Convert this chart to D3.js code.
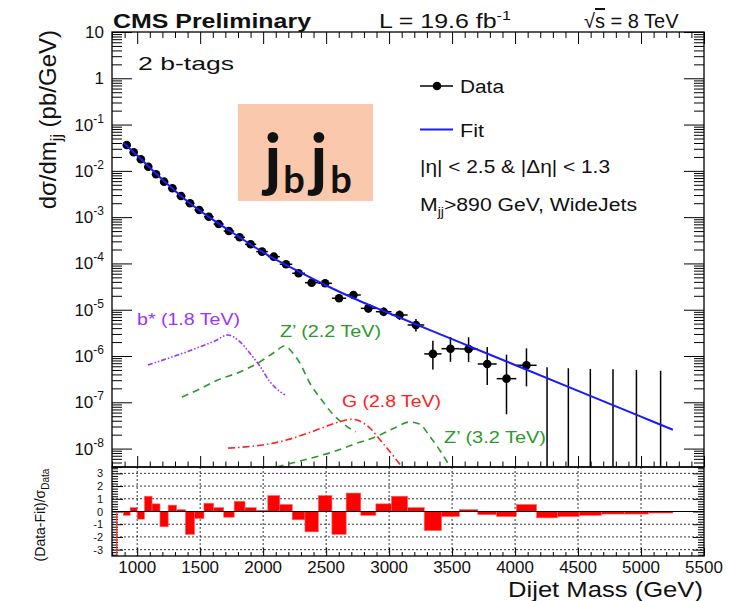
<!DOCTYPE html>
<html>
<head>
<meta charset="utf-8">
<script src="https://cdn.jsdelivr.net/npm/d3@7"></script>
<style>
  body { margin: 0; background: #fff; }
  svg { display: block; font-family: 'Liberation Sans', Arial, sans-serif; }
</style>
</head>
<body>
<div id="chart"></div>
<script>
// dijet mass bins (GeV)
const binEdges = [890, 944, 1000, 1058, 1118, 1181, 1246, 1313, 1383, 1455, 1530, 1607, 1687, 1770,
  1856, 1945, 2037, 2132, 2231, 2332, 2438, 2546, 2659, 2775, 2895, 3019, 3147, 3279, 3416, 3558,
  3704, 3854, 4010, 4171, 4337, 4509, 4686, 4869, 5058, 5253]

// data, pb/GeV (first 33 bins)
const dataVal = [3.62e-2, 2.52e-2, 1.78e-2, 1.23e-2, 8.43e-3, 5.84e-3, 4.20e-3, 2.86e-3, 1.99e-3,
  1.43e-3, 1.02e-3, 7.11e-4, 5.01e-4, 3.67e-4, 2.59e-4, 1.80e-4, 1.40e-4, 9.59e-5, 6.13e-5, 3.84e-5,
  3.72e-5, 1.77e-5, 2.08e-5, 1.07e-5, 9.07e-6, 7.69e-6, 4.68e-6, 1.11e-6, 1.44e-6, 1.42e-6, 6.73e-7,
  3.24e-7, 6.3e-7]
// relative error bars
const errUp = [0.005, 0.006, 0.007, 0.008, 0.010, 0.012, 0.013, 0.016, 0.019, 0.022, 0.025, 0.030,
  0.035, 0.040, 0.047, 0.055, 0.062, 0.073, 0.091, 0.11, 0.11, 0.16, 0.15, 0.22, 0.23, 0.25, 0.34,
  0.93, 0.79, 0.79, 1.32, 2.30, 1.32]
const errDn = [0.005, 0.006, 0.007, 0.008, 0.010, 0.012, 0.013, 0.016, 0.019, 0.022, 0.025, 0.030,
  0.035, 0.040, 0.047, 0.055, 0.062, 0.073, 0.091, 0.11, 0.11, 0.16, 0.15, 0.19, 0.20, 0.22, 0.28,
  0.54, 0.48, 0.48, 0.65, 0.83, 0.65]
// empty bins: upper limit only
const emptyUp = [5.7e-7, 5.45e-7, 5.25e-7, 5.15e-7, 5.0e-7, 4.8e-7]

// fit
const fitMass = [890, 1000, 1200, 1400, 1600, 1800, 2000, 2250, 2500, 2750, 3000, 3500, 4000, 4500, 5000, 5253]
const fitVal = [4.06e-2, 2.15e-2, 6.51e-3, 2.18e-3, 8.85e-4, 3.88e-4, 1.73e-4, 7.40e-5, 3.34e-5,
  1.62e-5, 8.37e-6, 2.31e-6, 6.40e-7, 1.77e-7, 4.89e-8, 2.55e-8]

// (data-fit)/sigma per bin
const pulls = [-0.3, 0.3, -0.6, 1.2, 0.6, -1.2, 0.5, 0.15, -1.8, -0.55, 0.65, 0.3, -0.45, 0.8, 0.3,
  0.1, 1.25, 0.55, -0.65, -1.6, 1.25, -1.8, 1.45, -0.3, 0.6, 1.2, 0.3, -1.5, -0.4, 0.15, -0.25, -0.4,
  0.55, -0.5, -0.4, -0.3, -0.2, -0.2, -0.12]
const pullEdgeLine = 838

// signal shapes
const bstarMass = [1085, 1299, 1498, 1617, 1720, 1799, 1894, 1973, 2053, 2172]
const bstarVal = [6.4e-7, 1.0e-6, 1.57e-6, 2.11e-6, 2.85e-6, 2.22e-6, 1.16e-6, 6.1e-7, 2.8e-7, 1.44e-7]
const zp22Mass = [1355, 1498, 1640, 1815, 1973, 2092, 2172, 2235, 2291, 2370, 2465, 2545, 2640, 2735]
const zp22Val = [1.30e-7, 1.94e-7, 3.03e-7, 4.52e-7, 7.43e-7, 1.22e-6, 1.65e-6, 1.16e-6, 7.07e-7,
  2.61e-7, 1.12e-7, 5.87e-8, 3.40e-8, 2.29e-8]
const g28Mass = [1722, 2158, 2423, 2608, 2700, 2819, 2951, 3097]
const g28Val = [1.02e-8, 1.46e-8, 2.52e-8, 3.81e-8, 4.29e-8, 3.24e-8, 1.30e-8, 4.2e-9]
const zp32Mass = [2108, 2291, 2552, 2727, 2901, 3044, 3163, 3242, 3321, 3401, 3480]
const zp32Val = [4.0e-9, 5.4e-9, 8.45e-9, 1.26e-8, 1.83e-8, 2.79e-8, 3.76e-8, 3.40e-8, 1.87e-8, 9.33e-9, 4.2e-9]

const yTickExp = [1, 0, -1, -2, -3, -4, -5, -6, -7, -8]
const pullTicks = [3, 2, 1, 0, -1, -2, -3]
const xTickLabels = [1000, 1500, 2000, 2500, 3000, 3500, 4000, 4500, 5000, 5500]

const width = 731
const height = 601
const L = 112, R = 704, T = 32, MID = 467, B = 556

const svg = d3.select('#chart').append('svg')
  .attr('width', width).attr('height', height)

svg.append('rect').attr('width', width).attr('height', height).attr('fill', '#fff')

const x = d3.scaleLinear().domain([800, 5500]).range([L, R])
const y = d3.scaleLog().domain([4e-9, 10]).range([MID, T])
const yr = d3.scaleLinear().domain([-3.5, 3.5]).range([B, MID])

svg.append('defs').append('clipPath').attr('id', 'upper')
  .append('rect').attr('x', L).attr('y', T).attr('width', R - L).attr('height', MID - T)

// tick marks via d3 axes (no labels)
const tickAxis = (axis, values, size, tr) => {
  const g = svg.append('g').attr('transform', tr)
    .call(axis.tickValues(values).tickSize(-size).tickFormat(''))
  g.select('.domain').remove()
  g.selectAll('line').attr('stroke', '#000').attr('stroke-width', 1)
}

const xMajor = x.ticks(10)
const xMinor = x.ticks(47).filter(v => v % 500 !== 0)
const yAll = y.ticks(10)
const yMajor = yAll.filter(v => Math.abs(Math.log10(v) - Math.round(Math.log10(v))) < 1e-6)
const yMinor = yAll.filter(v => !yMajor.includes(v))

tickAxis(d3.axisTop(x), xMajor, 12, `translate(0,${T})`)
tickAxis(d3.axisTop(x), xMinor, 6, `translate(0,${T})`)
tickAxis(d3.axisBottom(x), xMajor, 11, `translate(0,${MID})`)
tickAxis(d3.axisBottom(x), xMinor, 5.5, `translate(0,${MID})`)
tickAxis(d3.axisLeft(y), yMajor, 20, `translate(${L},0)`)
tickAxis(d3.axisLeft(y), yMinor, 10, `translate(${L},0)`)
tickAxis(d3.axisRight(y), yMajor, 20, `translate(${R},0)`)
tickAxis(d3.axisRight(y), yMinor, 10, `translate(${R},0)`)

// lower panel grid
const grid = svg.append('g').attr('stroke', '#000').attr('stroke-width', 0.8).attr('stroke-dasharray', '2,2')
grid.selectAll('.gh').data(pullTicks.filter(v => v !== 0)).enter().append('line')
  .attr('x1', L).attr('x2', R).attr('y1', d => yr(d)).attr('y2', d => yr(d))
grid.selectAll('.gv').data(xMajor.filter(v => v < 5500)).enter().append('line')
  .attr('y1', MID).attr('y2', B).attr('x1', d => x(d)).attr('x2', d => x(d))

const pMajor = yr.ticks(7).filter(v => Number.isInteger(v))
const pMinor = yr.ticks(35).filter(v => !Number.isInteger(v))
tickAxis(d3.axisBottom(x), xMajor, 8, `translate(0,${B})`)
tickAxis(d3.axisBottom(x), xMinor, 4, `translate(0,${B})`)
tickAxis(d3.axisLeft(yr), pMajor, 11, `translate(${L},0)`)
tickAxis(d3.axisLeft(yr), pMinor, 6, `translate(${L},0)`)
tickAxis(d3.axisRight(yr), pMajor, 11, `translate(${R},0)`)
tickAxis(d3.axisRight(yr), pMinor, 6, `translate(${R},0)`)

// pull histogram
const bins = pulls.map((p, i) => ({ lo: binEdges[i], hi: binEdges[i + 1], p }))
svg.append('g').selectAll('rect').data(bins).enter().append('rect')
  .attr('x', d => x(d.lo))
  .attr('width', d => x(d.hi) - x(d.lo))
  .attr('y', d => yr(Math.max(0, d.p)))
  .attr('height', d => Math.abs(yr(d.p) - yr(0)))
  .attr('fill', '#ff0000')
  .attr('stroke', '#ff6060')
  .attr('stroke-width', 0.6)
svg.append('line')
  .attr('x1', x(pullEdgeLine)).attr('x2', x(pullEdgeLine))
  .attr('y1', yr(0)).attr('y2', B)
  .attr('stroke', '#ff3030').attr('stroke-width', 1.2)
svg.append('line').attr('x1', L).attr('x2', R).attr('y1', yr(0)).attr('y2', yr(0))
  .attr('stroke', '#000').attr('stroke-width', 1.2)

// signals
const sigLine = d3.line().x(d => x(d[0])).y(d => y(d[1])).curve(d3.curveMonotoneX)
const signals = [
  { m: bstarMass, v: bstarVal, color: '#9933ff', dash: '5,2,1.5,2,1.5,2' },
  { m: zp22Mass, v: zp22Val, color: '#2b9a2b', dash: '7,5' },
  { m: g28Mass, v: g28Val, color: '#ff2020', dash: '7,3,1.5,3' },
  { m: zp32Mass, v: zp32Val, color: '#2b9a2b', dash: '7,5' },
]
const sigG = svg.append('g').attr('clip-path', 'url(#upper)')
signals.forEach(s => {
  sigG.append('path')
    .attr('d', sigLine(s.m.map((m, i) => [m, s.v[i]])))
    .attr('fill', 'none')
    .attr('stroke', s.color)
    .attr('stroke-width', 1.6)
    .attr('stroke-dasharray', s.dash)
})

// data points
const pts = dataVal.map((v, i) => ({
  lo: binEdges[i], hi: binEdges[i + 1], m: (binEdges[i] + binEdges[i + 1]) / 2,
  v, up: v * (1 + errUp[i]), dn: v * (1 - errDn[i])
}))
const dataG = svg.append('g').attr('stroke', '#000').attr('stroke-width', 1.5)
dataG.selectAll('.eh').data(pts).enter().append('line')
  .attr('x1', d => x(d.lo)).attr('x2', d => x(d.hi))
  .attr('y1', d => y(d.v)).attr('y2', d => y(d.v))
dataG.selectAll('.ev').data(pts).enter().append('line')
  .attr('x1', d => x(d.m)).attr('x2', d => x(d.m))
  .attr('y1', d => y(d.dn)).attr('y2', d => y(d.up))
const empty = emptyUp.map((u, i) => {
  const k = dataVal.length + i
  return { m: (binEdges[k] + binEdges[k + 1]) / 2, u }
})
dataG.selectAll('.em').data(empty).enter().append('line')
  .attr('x1', d => x(d.m)).attr('x2', d => x(d.m))
  .attr('y1', d => y(d.u)).attr('y2', MID)
svg.append('g').selectAll('circle').data(pts).enter().append('circle')
  .attr('cx', d => x(d.m)).attr('cy', d => y(d.v)).attr('r', 4.3).attr('fill', '#000')

// fit
svg.append('path')
  .attr('d', d3.line().x(d => x(d[0])).y(d => y(d[1])).curve(d3.curveMonotoneX)(fitMass.map((m, i) => [m, fitVal[i]])))
  .attr('fill', 'none').attr('stroke', '#1a1aff').attr('stroke-width', 2)

// frames
svg.append('rect').attr('x', L).attr('y', T).attr('width', R - L).attr('height', MID - T)
  .attr('fill', 'none').attr('stroke', '#000').attr('stroke-width', 1.3)
svg.append('rect').attr('x', L).attr('y', MID).attr('width', R - L).attr('height', B - MID)
  .attr('fill', 'none').attr('stroke', '#000').attr('stroke-width', 1.3)

// text helpers
const stretch = (t, w) => t.attr('textLength', w).attr('lengthAdjust', 'spacingAndGlyphs')

// y tick labels
yTickExp.forEach(e => {
  const t = svg.append('text').attr('x', 104).attr('y', y(Math.pow(10, e)) + 6)
    .attr('text-anchor', 'end').attr('font-size', 17).attr('fill', '#111')
  if (e === 1) t.text('10')
  else if (e === 0) t.text('1')
  else {
    t.append('tspan').text('10')
    t.append('tspan').attr('dy', -8).attr('font-size', 12).text(String(e))
  }
})
pullTicks.forEach(v => {
  svg.append('text').attr('x', 103).attr('y', yr(v) + 4).attr('text-anchor', 'end')
    .attr('font-size', 11).attr('fill', '#111').text(String(v))
})
xTickLabels.forEach(v => {
  svg.append('text').attr('x', x(v)).attr('y', 573).attr('text-anchor', 'middle')
    .attr('font-size', 17).attr('fill', '#111').text(String(v))
})

// axis titles
stretch(svg.append('text').attr('x', 703).attr('y', 597).attr('text-anchor', 'end')
  .attr('font-size', 22).attr('fill', '#111').text('Dijet Mass (GeV)'), 195)

const yt = svg.append('text').attr('transform', 'translate(56,30) rotate(-90)')
  .attr('text-anchor', 'end').attr('font-size', 24).attr('fill', '#111')
yt.append('tspan').text('dσ/dm')
yt.append('tspan').attr('dy', 6).attr('font-size', 16).text('jj')
yt.append('tspan').attr('dy', -6).text(' (pb/GeV)')

const pt = svg.append('text').attr('transform', 'translate(45,515) rotate(-90)')
  .attr('text-anchor', 'middle').attr('font-size', 14).attr('fill', '#111')
pt.append('tspan').text('(Data-Fit)/σ')
pt.append('tspan').attr('dy', 4).attr('font-size', 10).text('Data')

// header
stretch(svg.append('text').attr('x', 113).attr('y', 28).attr('font-size', 21).attr('font-weight', 'bold')
  .attr('fill', '#111').text('CMS Preliminary'), 198)
const lumi = svg.append('text').attr('x', 379).attr('y', 28).attr('font-size', 20).attr('fill', '#111')
lumi.append('tspan').text('L = 19.6 fb')
lumi.append('tspan').attr('dy', -8).attr('font-size', 13).text('-1')
stretch(lumi, 132)
const rs = svg.append('text').attr('x', 584).attr('y', 28).attr('font-size', 20).attr('fill', '#111')
rs.append('tspan').text('√')
rs.append('tspan').style('text-decoration', 'overline').text('s')
rs.append('tspan').text(' = 8 TeV')

stretch(svg.append('text').attr('x', 138).attr('y', 70).attr('font-size', 19).attr('fill', '#111')
  .text('2 b-tags'), 96)

// jbjb box
svg.append('rect').attr('x', 238).attr('y', 104).attr('width', 135).attr('height', 97).attr('fill', '#fac8ac')
const jb = [['j', 273, 183, 68], ['b', 294, 193, 38], ['j', 319, 183, 68], ['b', 341, 193, 38]]
jb.forEach(([c, cx, cy, fs]) => {
  svg.append('text').attr('x', cx).attr('y', cy).attr('text-anchor', 'middle')
    .attr('font-family', 'Lato, "Open Sans", sans-serif').attr('font-weight', 'bold')
    .attr('font-size', fs).attr('fill', '#111').text(c)
})

// legend
svg.append('line').attr('x1', 420).attr('x2', 453).attr('y1', 86).attr('y2', 86).attr('stroke', '#000').attr('stroke-width', 1.3)
svg.append('circle').attr('cx', 437).attr('cy', 86).attr('r', 4.3).attr('fill', '#000')
stretch(svg.append('text').attr('x', 460).attr('y', 93).attr('font-size', 18).attr('fill', '#111').text('Data'), 44)
svg.append('line').attr('x1', 420).attr('x2', 453).attr('y1', 129.5).attr('y2', 129.5).attr('stroke', '#1a1aff').attr('stroke-width', 2)
stretch(svg.append('text').attr('x', 460).attr('y', 137).attr('font-size', 18).attr('fill', '#111').text('Fit'), 24)
stretch(svg.append('text').attr('x', 420).attr('y', 173).attr('font-size', 18).attr('fill', '#111')
  .text('|η| < 2.5 & |Δη| < 1.3'), 190)
const mj = svg.append('text').attr('x', 420).attr('y', 211).attr('font-size', 18).attr('fill', '#111')
mj.append('tspan').text('M')
mj.append('tspan').attr('dy', 5).attr('font-size', 12).text('jj')
mj.append('tspan').attr('dy', -5).text('>890 GeV, WideJets')
stretch(mj, 217)

// signal labels
const sigLabels = [
  ['b* (1.8 TeV)', 137, 325, '#9933ff', 103],
  ['Z’ (2.2 TeV)', 280, 337, '#2b9a2b', 101],
  ['G (2.8 TeV)', 342, 407, '#ff2020', 99],
  ['Z’ (3.2 TeV)', 444, 443, '#2b9a2b', 102],
]
sigLabels.forEach(([s, lx, ly, c, w]) => {
  stretch(svg.append('text').attr('x', lx).attr('y', ly).attr('font-size', 16).attr('fill', c).text(s), w)
})
</script>
</body>
</html>
